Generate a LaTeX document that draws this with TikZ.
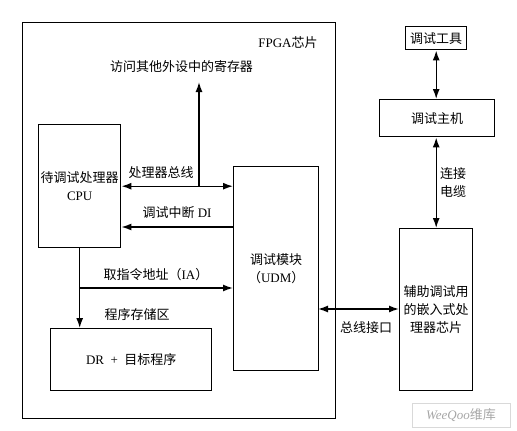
\documentclass[tikz,border=0pt]{standalone}
\usepackage{fontspec}
\setmainfont{Liberation Serif}
\newfontfamily\cjk{Noto Sans CJK SC}
\usetikzlibrary{arrows.meta}
\begin{document}
\begin{tikzpicture}[x=1pt,y=-1pt,
  box/.style={draw,line width=1.4pt,anchor=north west,inner sep=0pt,align=center},
  lbl/.style={inner sep=1pt,align=center},
  conn/.style={line width=1.4pt},
  tip/.style={-{Latex[length=10pt,width=7pt]}},
  tips/.style={{Latex[length=10pt,width=7pt]}-{Latex[length=10pt,width=7pt]}},
  font=\fontsize{13}{18}\selectfont]
\useasboundingbox (0,0) rectangle (517,431);
\node[box,minimum width=313pt,minimum height=396pt] (fpga) at (22,22) {};
\node[box,minimum width=82pt,minimum height=123pt] (cpu) at (38,124) {{\cjk 待调试处理器}\\CPU};
\node[box,minimum width=85pt,minimum height=204pt] (udm) at (233,166) {{\cjk 调试模块}\\{\cjk （}UDM{\cjk ）}};
\node[box,minimum width=161pt,minimum height=62pt] (dr) at (50,328) {DR\ \ +\ \ {\cjk 目标程序}};
\node[box,minimum width=61pt,minimum height=23pt] (tool) at (405,26) {\cjk 调试工具};
\node[box,minimum width=115pt,minimum height=37pt] (host) at (379,99) {\cjk 调试主机};
\node[box,minimum width=73pt,minimum height=162pt] (aux) at (399,228) {\cjk 辅助调试用\\\cjk 的嵌入式处\\\cjk 理器芯片};

\node[lbl] (fpgalbl) at (288,43) {FPGA{\cjk 芯片}};
\node[lbl] (regs) at (181.5,67) {\cjk 访问其他外设中的寄存器};
\node[lbl] (buslbl) at (161,173) {\cjk 处理器总线};
\node[lbl] (dilbl) at (177,213) {{\cjk 调试中断} DI};
\node[lbl] (ialbl) at (156,275) {{\cjk 取指令地址（}IA{\cjk ）}};
\node[lbl] (memlbl) at (137,315) {\cjk 程序存储区};
\node[lbl] (cablbl) at (453,183) {\cjk 连接\\\cjk 电缆};
\node[lbl] (bilbl) at (366,328) {\cjk 总线接口};
\node[draw=gray!30,line width=0.6pt,text=gray!70,minimum width=98pt,minimum height=24pt,inner sep=0pt] (wm) at (461,415) {\textit{WeeQoo}{\cjk 维库}};

\coordinate (busT) at (199,185.5);
\coordinate (regsT) at (199,82);
\coordinate (diA) at (233,227);
\coordinate (iaA) at (79,288);
\coordinate (biA) at (318,309);

\draw[conn,tips] (cpu.east) -- (cpu.east -| udm.west);
\draw[conn,tip] (busT) -- (regsT);
\draw[conn,tip] (diA) -- (diA -| cpu.east);
\draw[conn,tip] (cpu.south) -- (cpu.south |- dr.north);
\draw[conn,tip] (iaA) -- (iaA -| udm.west);
\draw[conn,tips] (biA) -- (biA -| aux.west);
\draw[conn,tips] (tool.south) -- (tool.south |- host.north);
\draw[conn,tips] (host.south -| tool.south) -- (aux.north -| tool.south);
\end{tikzpicture}
\end{document}
